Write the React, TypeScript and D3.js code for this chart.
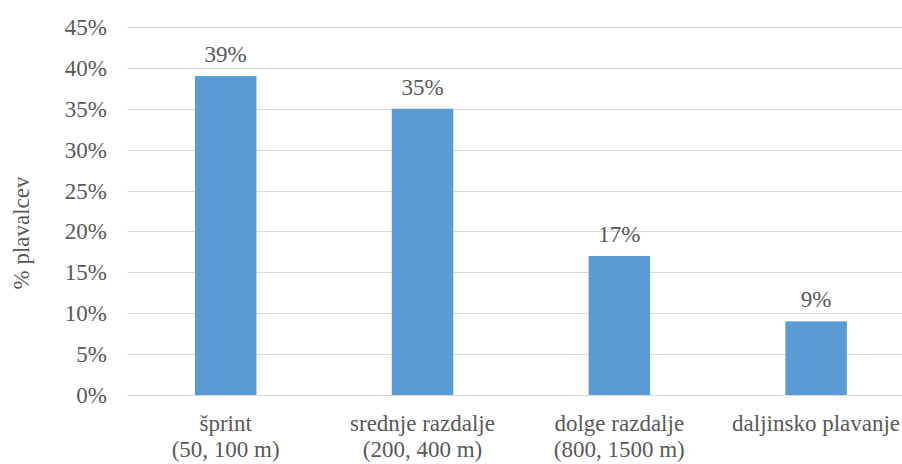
import React from "react";
import { scaleBand, scaleLinear } from "d3";

// Share of swimmers by race distance
const categories: string[][] = [
  ["šprint", "(50, 100 m)"],
  ["srednje razdalje", "(200, 400 m)"],
  ["dolge razdalje", "(800, 1500 m)"],
  ["daljinsko plavanje"],
];
const shares: number[] = [0.39, 0.35, 0.17, 0.09];
const yTicks: number[] = [0, 0.05, 0.1, 0.15, 0.2, 0.25, 0.3, 0.35, 0.4, 0.45];
const yTitle = "% plavalcev";

const W = 902;
const H = 464;
const TEXT = "#595959";
const BAR = "#5B9BD5";
const GRID = "#D9D9D9";

export default function App() {
  const keys = categories.map((c) => c.join(" "));
  const x = scaleBand<string>()
    .domain(keys)
    .range([127.3, 914.5])
    .paddingInner(0.6875)
    .paddingOuter(0.34375);
  const y = scaleLinear().domain([0, 0.45]).range([395, 27]);
  const pct = (v: number) => Math.round(v * 100) + "%";
  const cx = (i: number) => (x(keys[i]) as number) + x.bandwidth() / 2;

  return (
    <svg width={W} height={H} style={{ position: "absolute", left: 0, top: 0, background: "#fff" }}>
      <rect x={0} y={0} width={W} height={H} fill="#fff" />
      {/* gridlines */}
      {yTicks.map((t) => (
        <line
          key={t}
          x1={127.3}
          x2={W}
          y1={Math.round(y(t)) + 0.5}
          y2={Math.round(y(t)) + 0.5}
          stroke={GRID}
          strokeWidth={1}
        />
      ))}
      {/* y tick labels */}
      {yTicks.map((t) => (
        <text
          key={"l" + t}
          x={107}
          y={y(t) + 8}
          textAnchor="end"
          style={{ fontFamily: "Liberation Serif", fontSize: 23 }}
          fill={TEXT}
        >
          {pct(t)}
        </text>
      ))}
      {/* bars */}
      {shares.map((v, i) => (
        <rect
          key={keys[i]}
          x={x(keys[i])}
          y={y(v)}
          width={x.bandwidth()}
          height={y(0) - y(v)}
          fill={BAR}
        />
      ))}
      {/* value labels */}
      {shares.map((v, i) => (
        <text
          key={"v" + i}
          x={cx(i)}
          y={y(v) - 14}
          textAnchor="middle"
          style={{ fontFamily: "Liberation Serif", fontSize: 23 }}
          fill={TEXT}
        >
          {pct(v)}
        </text>
      ))}
      {/* category labels */}
      {categories.map((lines, i) =>
        lines.map((ln, j) => (
          <text
            key={"c" + i + "-" + j}
            x={cx(i)}
            y={431 + j * 26}
            textAnchor="middle"
            style={{ fontFamily: "Liberation Serif", fontSize: 23 }}
            fill={TEXT}
          >
            {ln}
          </text>
        ))
      )}
      {/* axis title */}
      <text
        transform="translate(29, 233) rotate(-90)"
        textAnchor="middle"
        style={{ fontFamily: "Liberation Serif", fontSize: 23 }}
        fill={TEXT}
      >
        {yTitle}
      </text>
    </svg>
  );
}
